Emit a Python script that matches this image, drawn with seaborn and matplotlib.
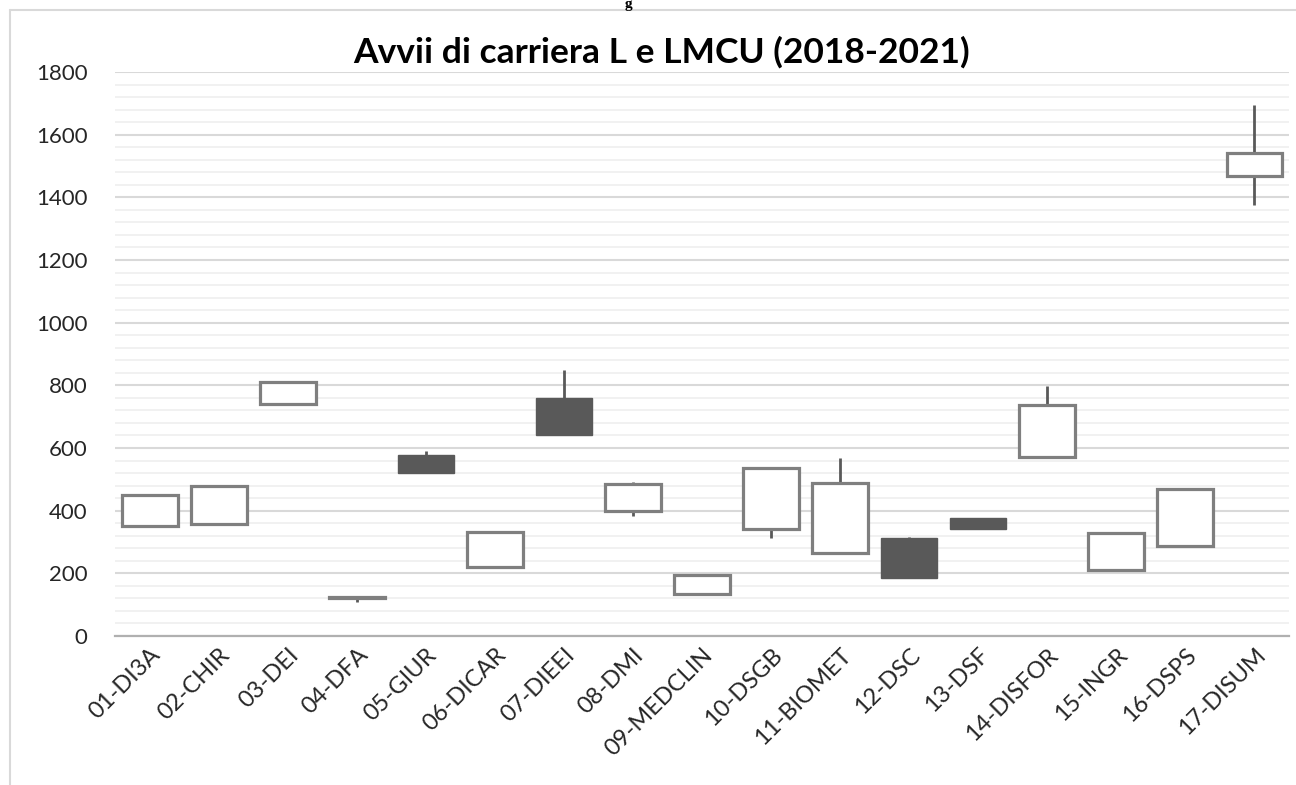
import numpy as np
import pandas as pd
import seaborn as sns
import matplotlib.pyplot as plt
from matplotlib.ticker import MultipleLocator
from matplotlib.lines import Line2D

# valori (apertura / chiusura / massimo / minimo)
dipartimenti = ["01-DI3A", "02-CHIR", "03-DEI", "04-DFA", "05-GIUR", "06-DICAR",
                "07-DIEEI", "08-DMI", "09-MEDCLIN", "10-DSGB", "11-BIOMET",
                "12-DSC", "13-DSF", "14-DISFOR", "15-INGR", "16-DSPS", "17-DISUM"]
apertura = [351, 356, 740, 120, 578, 219, 761, 400, 133, 340, 264, 312, 377, 572, 212, 288, 1468]
chiusura = [450, 478, 812, 123, 520, 331, 641, 484, 195, 535, 489, 186, 341, 737, 328, 470, 1540]
massimo = [450, 478, 812, 123, 590, 331, 849, 490, 195, 535, 567, 317, 377, 798, 328, 470, 1696]
minimo = [351, 356, 740, 108, 520, 219, 641, 383, 133, 314, 264, 186, 341, 572, 212, 288, 1375]

df = pd.DataFrame({"dip": dipartimenti, "open": apertura, "close": chiusura,
                   "high": massimo, "low": minimo})
df["body_lo"] = df[["open", "close"]].min(axis=1)
df["body_h"] = (df["close"] - df["open"]).abs()
df["up"] = df["close"] >= df["open"]

sns.set_theme(style="white")
plt.rcParams["font.family"] = ["Lato", "DejaVu Sans"]

fig = plt.figure(figsize=(12.96, 7.85), dpi=100, facecolor="white")
ax = fig.add_axes([0.0889, 0.1898, 0.9057, 0.7185])

# barre alte-basse
ax.vlines(np.arange(len(df)), df["low"], df["high"], color="#595959", lw=2, zorder=2)

# corpi delle candele
sns.barplot(data=df, x="dip", y="body_h", bottom=df["body_lo"].values, width=0.81,
            errorbar=None, color="white", ax=ax, zorder=3)
for patch, up in zip(ax.patches, df["up"]):
    if up:
        patch.set_facecolor("white")
        patch.set_edgecolor("#7f7f7f")
        patch.set_linewidth(2.3)
    else:
        patch.set_facecolor("#595959")
        patch.set_edgecolor("#595959")
        patch.set_linewidth(1.0)

ax.set_ylim(0, 1800)
ax.yaxis.set_major_locator(MultipleLocator(200))
ax.yaxis.set_minor_locator(MultipleLocator(40))
ax.grid(which="minor", axis="y", color="#f0f0f0", lw=1.3, zorder=0)
ax.grid(which="major", axis="y", color="#d9d9d9", lw=1.5, zorder=0)
ax.set_axisbelow(True)
for s in ["top", "right", "left"]:
    ax.spines[s].set_visible(False)
ax.spines["bottom"].set_color("#b0b0b0")
ax.spines["bottom"].set_linewidth(1.6)
ax.tick_params(axis="both", which="both", length=0, colors="#262626")
ax.tick_params(axis="y", pad=20, labelsize=16)
ax.tick_params(axis="x", pad=6, labelsize=17)
plt.setp(ax.get_xticklabels(), rotation=45, ha="right", rotation_mode="anchor")
ax.set_xlabel("")
ax.set_ylabel("")

fig.text(0.5105, 0.934, "Avvii di carriera L e LMCU (2018-2021)", ha="center", va="center",
         fontsize=25.5, fontweight="bold", color="black")

# piccolo frammento di testo sopra il grafico
fig.text(0.4846, 1 - 8 / 785, "g", ha="center", va="baseline", fontsize=11,
         fontweight="bold", family=["Liberation Serif", "DejaVu Serif"], color="black")

# bordo dell'area del grafico
fig.add_artist(Line2D([0.0077, 0.0077], [0, 0.987], color="#d9d9d9", lw=1.5))
fig.add_artist(Line2D([0.0077, 1], [0.987, 0.987], color="#d9d9d9", lw=1.5))

fig.savefig("out.png", dpi=100)
